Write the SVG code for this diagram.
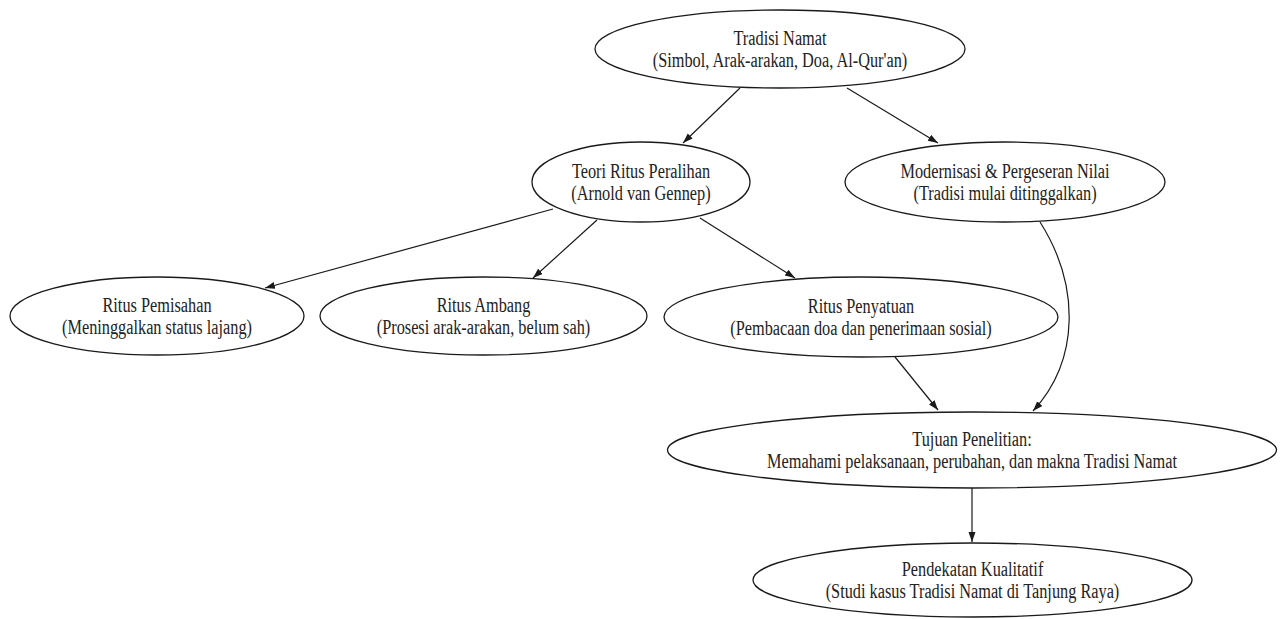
<svg xmlns="http://www.w3.org/2000/svg" width="1283" height="619" viewBox="0 0 1283 619">
<style>
.node ellipse{fill:#fff;stroke:#1a1a1a;stroke-width:1.3}
.node text{font-family:"Liberation Serif","Times New Roman",serif;font-size:20px;fill:#222;text-anchor:middle}
.edges path{fill:none;stroke:#1a1a1a;stroke-width:1.2}
</style>
<defs>
<marker id="arr" markerUnits="userSpaceOnUse" markerWidth="11" markerHeight="8" refX="10" refY="3.5" orient="auto">
<path d="M0,0 L10,3.5 L0,7 z" fill="#1a1a1a"/>
</marker>
</defs>
<rect width="1283" height="619" fill="#fff"/>
<g class="edges">
<path d="M740,88 L683,143" marker-end="url(#arr)"/>
<path d="M847,88 L938,143" marker-end="url(#arr)"/>
<path d="M553,209 L265,288" marker-end="url(#arr)"/>
<path d="M597,220 L533,278" marker-end="url(#arr)"/>
<path d="M700,218 L795,278" marker-end="url(#arr)"/>
<path d="M895,357 L938,410" marker-end="url(#arr)"/>
<path d="M1040,222 C1080,285 1080,360 1033,411" marker-end="url(#arr)"/>
<path d="M972,488 L972,542" marker-end="url(#arr)"/>
</g>
<g id="n1" class="node">
<ellipse cx="780" cy="49" rx="185" ry="39"/>
<text transform="translate(780 0) scale(0.815 1)" x="0" y="45">Tradisi Namat</text>
<text transform="translate(780 0) scale(0.815 1)" x="0" y="67">(Simbol, Arak-arakan, Doa, Al-Qur'an)</text>
</g>
<g id="n2" class="node">
<ellipse cx="641" cy="182" rx="109" ry="40"/>
<text transform="translate(641 0) scale(0.815 1)" x="0" y="178">Teori Ritus Peralihan</text>
<text transform="translate(641 0) scale(0.815 1)" x="0" y="200">(Arnold van Gennep)</text>
</g>
<g id="n3" class="node">
<ellipse cx="1005" cy="182" rx="160" ry="40"/>
<text transform="translate(1005 0) scale(0.815 1)" x="0" y="178">Modernisasi &amp; Pergeseran Nilai</text>
<text transform="translate(1005 0) scale(0.815 1)" x="0" y="200">(Tradisi mulai ditinggalkan)</text>
</g>
<g id="n4" class="node">
<ellipse cx="157" cy="316" rx="147" ry="39"/>
<text transform="translate(157 0) scale(0.815 1)" x="0" y="312">Ritus Pemisahan</text>
<text transform="translate(157 0) scale(0.815 1)" x="0" y="334">(Meninggalkan status lajang)</text>
</g>
<g id="n5" class="node">
<ellipse cx="483.5" cy="316" rx="163.5" ry="39"/>
<text transform="translate(483.5 0) scale(0.815 1)" x="0" y="312">Ritus Ambang</text>
<text transform="translate(483.5 0) scale(0.815 1)" x="0" y="334">(Prosesi arak-arakan, belum sah)</text>
</g>
<g id="n6" class="node">
<ellipse cx="861" cy="317" rx="197" ry="40"/>
<text transform="translate(861 0) scale(0.815 1)" x="0" y="313">Ritus Penyatuan</text>
<text transform="translate(861 0) scale(0.815 1)" x="0" y="335">(Pembacaan doa dan penerimaan sosial)</text>
</g>
<g id="n7" class="node">
<ellipse cx="972" cy="450" rx="304.5" ry="38"/>
<text transform="translate(972 0) scale(0.815 1)" x="0" y="446">Tujuan Penelitian:</text>
<text transform="translate(972 0) scale(0.815 1)" x="0" y="468">Memahami pelaksanaan, perubahan, dan makna Tradisi Namat</text>
</g>
<g id="n8" class="node">
<ellipse cx="972.5" cy="580" rx="219.5" ry="37"/>
<text transform="translate(972.5 0) scale(0.815 1)" x="0" y="576">Pendekatan Kualitatif</text>
<text transform="translate(972.5 0) scale(0.815 1)" x="0" y="598">(Studi kasus Tradisi Namat di Tanjung Raya)</text>
</g>
</svg>
